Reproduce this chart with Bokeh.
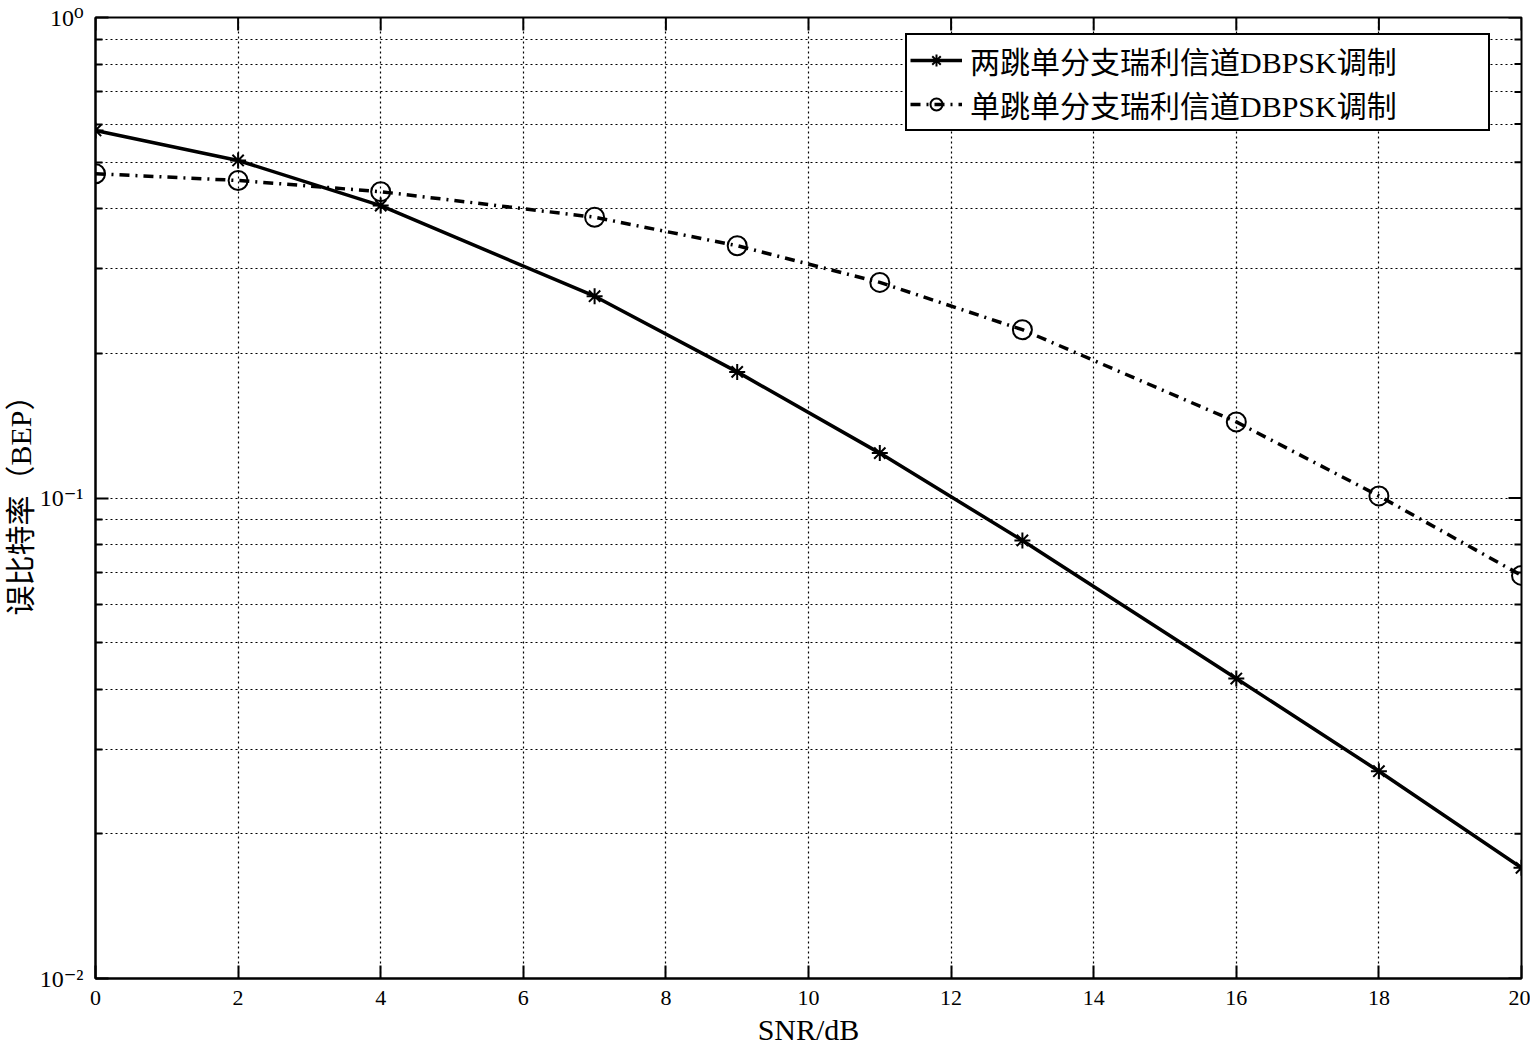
import math
from bokeh.plotting import figure
from bokeh.models import FixedTicker, Legend, LegendItem
from bokeh.embed import file_html
from bokeh.resources import INLINE

# ---- data ----
snr_db = [0, 2, 4, 7, 9, 11, 13, 16, 18, 20]
bep_two_hop = [0.582, 0.504, 0.406, 0.263, 0.183, 0.124, 0.0816, 0.0421, 0.0270, 0.0170]
bep_one_hop = [0.473, 0.458, 0.434, 0.384, 0.335, 0.281, 0.224, 0.144, 0.101, 0.069]

x_ticks = [0, 2, 4, 6, 8, 10, 12, 14, 16, 18, 20]
y_major_ticks = [0.01, 0.1, 1.0]
y_major_labels = ["10⁻²", "10⁻¹", "10⁰"]
y_minor_ticks = [m * 10.0 ** e for e in (-2, -1) for m in range(2, 10)]

label_two_hop = "两跳单分支瑞利信道DBPSK调制"
label_one_hop = "单跳单分支瑞利信道DBPSK调制"
x_label = "SNR/dB"
y_label = "误比特率（BEP）"

FONT_LATIN = "'Liberation Serif', 'Times New Roman', 'DejaVu Serif', serif"
FONT_CJK = "'Liberation Serif', 'Times New Roman', 'Noto Sans CJK SC', serif"

x_lo, x_hi = x_ticks[0], x_ticks[-1]
y_lo, y_hi = y_major_ticks[0], y_major_ticks[-1]

p = figure(
    width=1530, height=1051,
    y_axis_type="log",
    x_range=(x_lo, x_hi), y_range=(y_lo, y_hi),
    output_backend="svg", toolbar_location=None,
    min_border_left=95, min_border_right=9, min_border_top=17, min_border_bottom=73,
)
p.background_fill_color = "white"
p.border_fill_color = "white"
p.outline_line_color = "black"
p.outline_line_width = 2
p.outline_line_alpha = 1.0

# axes
p.xaxis.ticker = FixedTicker(ticks=x_ticks)
p.yaxis.ticker = FixedTicker(ticks=y_major_ticks, minor_ticks=y_minor_ticks)
p.yaxis.major_label_overrides = dict(zip(y_major_ticks, y_major_labels))
for ax in (p.xaxis[0], p.yaxis[0]):
    ax.axis_line_color = "black"
    ax.axis_line_width = 2
    ax.major_tick_line_color = "black"
    ax.major_tick_line_width = 2
    ax.major_tick_in = 13
    ax.major_tick_out = 0
    ax.minor_tick_line_color = "black"
    ax.minor_tick_line_width = 2
    ax.minor_tick_in = 7
    ax.minor_tick_out = 0
    ax.major_label_text_font = FONT_LATIN
    ax.major_label_text_color = "black"
    ax.axis_label_text_font_size = "30px"
    ax.axis_label_text_font_style = "normal"
    ax.axis_label_text_color = "black"
p.xaxis.major_label_text_font_size = "22px"
p.yaxis.major_label_text_font_size = "24px"
p.xaxis.axis_label_text_font = FONT_LATIN
p.yaxis.axis_label_text_font = FONT_CJK
p.xaxis.minor_tick_line_color = None
p.xaxis.axis_label = x_label
p.yaxis.axis_label = y_label
p.xaxis.major_label_standoff = 12
p.xaxis.axis_label_standoff = 5
p.yaxis.major_label_standoff = 12
p.yaxis.axis_label_standoff = 0

# grids
for g in (p.xgrid[0], p.ygrid[0]):
    g.grid_line_color = "black"
    g.grid_line_dash = "2 3"
    g.grid_line_width = 1.2
p.ygrid.minor_grid_line_color = "black"
p.ygrid.minor_grid_line_dash = "2 3"
p.ygrid.minor_grid_line_width = 1.2

# mirrored inward tick marks on the top and right frame edges (clipped to the frame)
p.scatter(x_ticks, [y_hi] * len(x_ticks), marker="dash", angle=math.pi / 2, size=26,
          line_color="black", line_width=2)
p.scatter([x_hi] * len(y_major_ticks), y_major_ticks, marker="dash", size=26,
          line_color="black", line_width=2)
p.scatter([x_hi] * len(y_minor_ticks), y_minor_ticks, marker="dash", size=14,
          line_color="black", line_width=2)

# series
l1 = p.line(snr_db, bep_two_hop, line_color="black", line_width=3.5)
m1 = p.scatter(snr_db, bep_two_hop, marker="asterisk", size=16,
               line_color="black", line_width=2)
l2 = p.line(snr_db, bep_one_hop, line_color="black", line_width=3.5, line_dash="10 6 2 6")
m2 = p.scatter(snr_db, bep_one_hop, marker="circle", size=19,
               fill_color=None, line_color="black", line_width=2)

legend = Legend(
    items=[LegendItem(label=label_two_hop, renderers=[l1, m1]),
           LegendItem(label=label_one_hop, renderers=[l2, m2])],
    location=(810, 847),
    label_text_font=FONT_CJK, label_text_font_size="30px", label_text_color="black",
    label_height=30, glyph_height=30, glyph_width=52, label_standoff=8,
    label_width=515, padding=3, spacing=0, margin=0,
    border_line_color="black", border_line_width=2, border_line_alpha=1.0,
    background_fill_color="white", background_fill_alpha=1.0,
)
p.add_layout(legend)

open("out.html", "w").write(file_html(p, INLINE))
